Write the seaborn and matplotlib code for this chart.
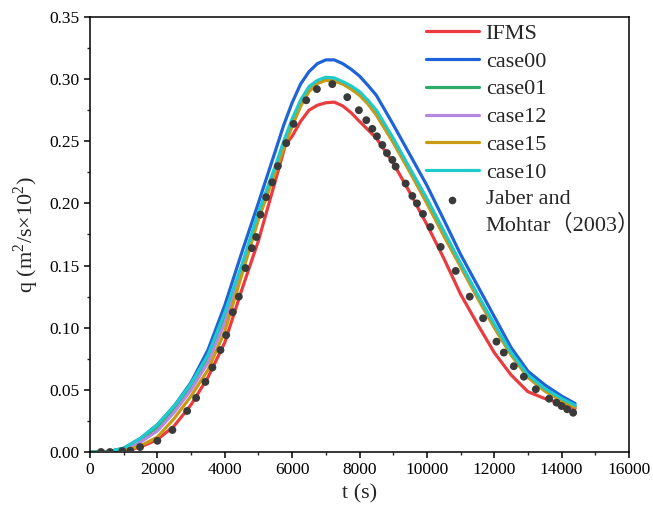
import matplotlib
matplotlib.use("Agg")
import matplotlib.pyplot as plt
from matplotlib.ticker import MultipleLocator
from matplotlib.font_manager import FontProperties
from matplotlib.lines import Line2D
from matplotlib.legend_handler import HandlerLine2D
import seaborn as sns

# ---------------- data ----------------
t = [0, 500, 1000, 1500, 2000, 2500, 3000, 3500, 4000, 4500, 5000, 5500, 5750,
     6000, 6250, 6500, 6750, 7000, 7250, 7500, 7750, 8000, 8250, 8500, 9000,
     9500, 10000, 10500, 11000, 11500, 12000, 12500, 13000, 13500, 14000, 14400]

t_ifms = [0, 500, 1000, 1500, 2000, 2500, 3000, 3500, 4000, 4500, 5000, 5500,
          5800, 6000, 6250, 6500, 6750, 7000, 7250, 7500, 7750, 8000, 8500,
          9000, 9500, 10000, 10500, 11000, 11500, 12000, 12500, 13000, 13500,
          14000, 14400]
ifms = [0, 0, 0.001, 0.004, 0.010, 0.021, 0.038, 0.060, 0.088, 0.130, 0.170,
        0.218, 0.247, 0.254, 0.266, 0.275, 0.279, 0.281, 0.2815, 0.2785,
        0.273, 0.266, 0.2525, 0.2325, 0.2085, 0.183, 0.156, 0.127, 0.103,
        0.080, 0.062, 0.0485, 0.043, 0.039, 0.035]

case00 = [0, 0, 0.003, 0.011, 0.022, 0.037, 0.056, 0.082, 0.118, 0.160,
          0.2005, 0.242, 0.263, 0.281, 0.296, 0.306, 0.3125, 0.3155, 0.3155,
          0.3125, 0.308, 0.3025, 0.295, 0.287, 0.2635, 0.239, 0.2145, 0.187,
          0.159, 0.134, 0.109, 0.084, 0.065, 0.054, 0.045, 0.039]
case01 = [0, 0, 0.003, 0.010, 0.020, 0.035, 0.053, 0.076, 0.109, 0.148,
          0.191, 0.228, 0.248, 0.266, 0.281, 0.292, 0.298, 0.3005, 0.300,
          0.297, 0.2935, 0.289, 0.282, 0.274, 0.251, 0.227, 0.203, 0.177,
          0.151, 0.126, 0.102, 0.079, 0.061, 0.050, 0.042, 0.037]
case12 = [0, 0, 0.002, 0.008, 0.017, 0.032, 0.050, 0.072, 0.104, 0.145,
          0.189, 0.227, 0.247, 0.265, 0.280, 0.292, 0.2975, 0.300, 0.2995,
          0.297, 0.293, 0.288, 0.281, 0.272, 0.250, 0.226, 0.201, 0.175,
          0.150, 0.125, 0.101, 0.079, 0.061, 0.050, 0.042, 0.0365]
case15 = [0, 0, 0.001, 0.005, 0.012, 0.027, 0.045, 0.066, 0.097, 0.142,
          0.187, 0.225, 0.244, 0.262, 0.278, 0.290, 0.2965, 0.299, 0.2985,
          0.296, 0.292, 0.287, 0.280, 0.271, 0.249, 0.225, 0.200, 0.174,
          0.149, 0.124, 0.100, 0.078, 0.060, 0.049, 0.041, 0.036]
case10 = [0, 0, 0.003, 0.011, 0.022, 0.037, 0.055, 0.078, 0.112, 0.150,
          0.193, 0.230, 0.250, 0.268, 0.283, 0.294, 0.299, 0.3015, 0.301,
          0.298, 0.2945, 0.290, 0.283, 0.275, 0.2525, 0.228, 0.204, 0.178,
          0.152, 0.127, 0.103, 0.080, 0.062, 0.051, 0.043, 0.0375]

t_obs = [327, 594, 960, 1198, 1486, 2000, 2446, 2883, 3150, 3426, 3634, 3872,
         4042, 4240, 4418, 4616, 4804, 4933, 5061, 5230, 5408, 5576, 5825,
         6042, 6419, 6735, 7192, 7637, 7982, 8202, 8380, 8517, 8678, 8815,
         8975, 9073, 9370, 9569, 9706, 9884, 10104, 10410, 10856, 11272,
         11668, 12066, 12283, 12580, 12878, 13234, 13630, 13849, 13998,
         14165, 14343]
q_obs = [0, 0, 0.0008, 0.001, 0.004, 0.009, 0.0177, 0.033, 0.0435, 0.0564,
         0.068, 0.082, 0.094, 0.1125, 0.125, 0.148, 0.164, 0.173, 0.191,
         0.205, 0.217, 0.230, 0.2485, 0.264, 0.283, 0.292, 0.296, 0.2855,
         0.275, 0.267, 0.260, 0.254, 0.247, 0.2405, 0.235, 0.2297, 0.216,
         0.206, 0.200, 0.1916, 0.181, 0.165, 0.1457, 0.125, 0.1076, 0.0888,
         0.080, 0.069, 0.0606, 0.0505, 0.0429, 0.0397, 0.037, 0.0344, 0.0316]

labels = ["IFMS", "case00", "case01", "case12", "case15", "case10"]
obs_label = "Jaber and\nMohtar\uff082003\uff09"
xticks = [0, 2000, 4000, 6000, 8000, 10000, 12000, 14000, 16000]
yticks = [0.00, 0.05, 0.10, 0.15, 0.20, 0.25, 0.30, 0.35]

# ---------------- style ----------------
sns.set_style("ticks")
plt.rcParams["font.family"] = ["Liberation Serif", "Noto Sans CJK SC", "DejaVu Sans"]
plt.rcParams["mathtext.fontset"] = "custom"
plt.rcParams["mathtext.rm"] = "Liberation Serif"

colors = ["#ea3b3f", "#1f63d8", "#2faa68", "#b688e0", "#c99a12", "#1fcaca"]
dot_color = "#3a3a3a"


class RaisedMarkerHandler(HandlerLine2D):
    """Place the legend marker beside the first line of a two-line label."""
    def create_artists(self, legend, orig_handle, xdescent, ydescent, width,
                       height, fontsize, trans):
        return super().create_artists(legend, orig_handle, xdescent,
                                      ydescent - 1.1 * fontsize, width, height,
                                      fontsize, trans)


fig = plt.figure(figsize=(6.53, 5.13), dpi=100)
ax = fig.add_axes([90 / 653, 1 - 452 / 513, (629 - 90) / 653, (452 - 17) / 513])

series_t = [t_ifms, t, t, t, t, t]
series_q = [ifms, case00, case01, case12, case15, case10]
for tt, qq, lab, col in zip(series_t, series_q, labels, colors):
    sns.lineplot(x=tt, y=qq, ax=ax, color=col, linewidth=2.3, label=lab,
                 sort=False, estimator=None)

sns.scatterplot(x=t_obs, y=q_obs, ax=ax, color=dot_color, s=32,
                edgecolor="none", zorder=5, legend=False)

ax.set_xlim(0, 16000)
ax.set_ylim(0, 0.35)
ax.set_xticks(xticks)
ax.set_yticks(yticks)
ax.set_xticklabels([str(v) for v in xticks])
ax.set_yticklabels([f"{v:.2f}" for v in yticks])
ax.xaxis.set_minor_locator(MultipleLocator(1000))
ax.yaxis.set_minor_locator(MultipleLocator(0.025))
ax.tick_params(axis="both", which="major", direction="out", length=4.5,
               width=1.1, labelsize=12.5, colors="black", pad=3)
ax.tick_params(axis="both", which="minor", direction="out", length=2.5,
               width=1.0)
for s in ax.spines.values():
    s.set_linewidth(1.1)
    s.set_color("black")

ax.set_xlabel("t (s)", fontsize=16, labelpad=4)
ax.set_ylabel("q (m$^2$/s\u00d710$^2$)", fontsize=16, labelpad=6)

handles, labs = ax.get_legend_handles_labels()
obs_handle = Line2D([], [], linestyle="none", marker="o", markersize=5.5,
                    color=dot_color, markeredgecolor="none")
handles.append(obs_handle)
labs.append(obs_label)
leg = ax.legend(handles, labs, loc="upper right",
                bbox_to_anchor=(1.0 + 22 / 539, 1.0 + 5 / 435), frameon=False,
                prop=FontProperties(family=["Liberation Serif", "Noto Sans CJK SC"], size=16),
                handlelength=2.4, handletextpad=0.3, labelspacing=0.33,
                borderaxespad=0.1,
                handler_map={obs_handle: RaisedMarkerHandler()})
for txt in leg.get_texts():
    txt.set_linespacing(1.3)

fig.savefig("out.png", dpi=100)
